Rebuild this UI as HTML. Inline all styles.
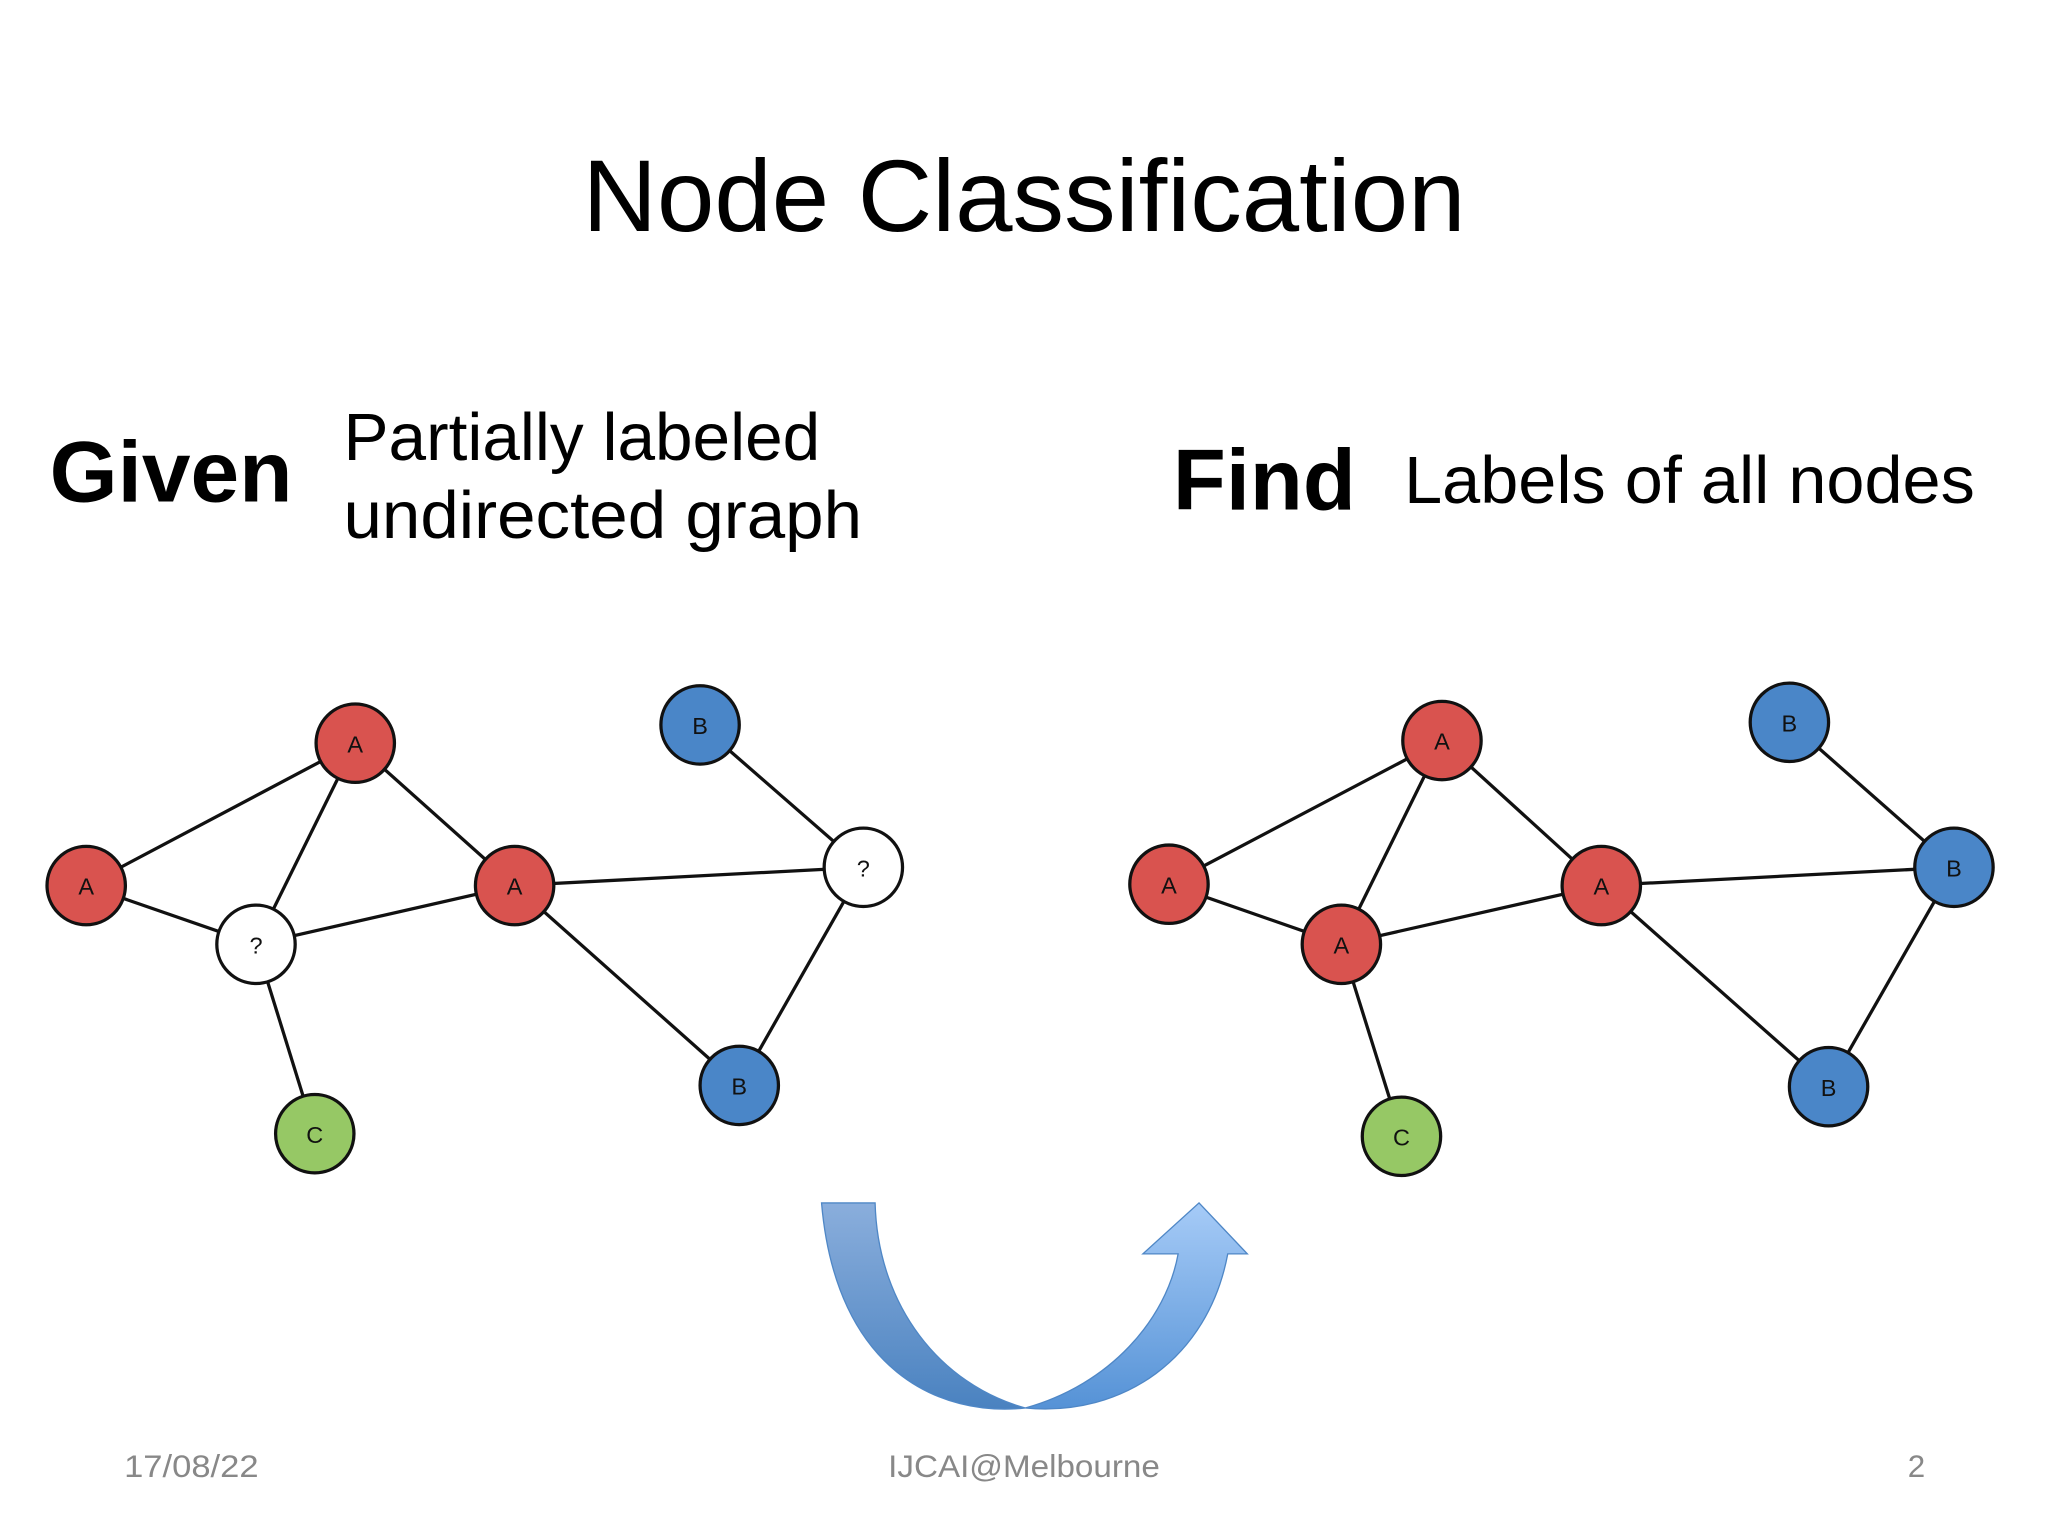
<!DOCTYPE html>
<html><head><meta charset="utf-8"><style>html,body{margin:0;padding:0;background:#fff}svg{display:block}</style></head>
<body>
<svg width="2048" height="1536" viewBox="0 0 1568 1176" xmlns="http://www.w3.org/2000/svg" font-family="Liberation Sans, sans-serif">
<defs>
<linearGradient id="g1" x1="0" y1="0" x2="0" y2="1"><stop offset="0" stop-color="#8aaedc"/><stop offset="1" stop-color="#4a82c0"/></linearGradient>
<linearGradient id="g2" x1="0" y1="0" x2="0" y2="1"><stop offset="0" stop-color="#a6cbf7"/><stop offset="1" stop-color="#5592d6"/></linearGradient>
</defs>
<text x="446" y="177" font-size="78" textLength="676" lengthAdjust="spacingAndGlyphs" fill="#000">Node Classification</text>
<text x="38" y="384" font-size="66" font-weight="bold" textLength="186" lengthAdjust="spacingAndGlyphs">Given</text>
<text x="263" y="352" font-size="51" textLength="365" lengthAdjust="spacingAndGlyphs">Partially labeled</text>
<text x="263" y="412" font-size="51" textLength="397" lengthAdjust="spacingAndGlyphs">undirected graph</text>
<text x="898" y="390" font-size="66" font-weight="bold" textLength="140" lengthAdjust="spacingAndGlyphs">Find</text>
<text x="1075" y="385" font-size="51" textLength="437" lengthAdjust="spacingAndGlyphs">Labels of all nodes</text>
<g stroke="#111" stroke-width="2.5">
<line x1="66" y1="678" x2="272" y2="569"/><line x1="66" y1="678" x2="196" y2="723"/><line x1="272" y1="569" x2="196" y2="723"/><line x1="272" y1="569" x2="394" y2="678"/><line x1="196" y1="723" x2="394" y2="678"/><line x1="196" y1="723" x2="241" y2="868"/><line x1="394" y1="678" x2="661" y2="664"/><line x1="394" y1="678" x2="566" y2="831"/><line x1="536" y1="555" x2="661" y2="664"/><line x1="661" y1="664" x2="566" y2="831"/>
<line x1="895" y1="677" x2="1104" y2="567"/><line x1="895" y1="677" x2="1027" y2="723"/><line x1="1104" y1="567" x2="1027" y2="723"/><line x1="1104" y1="567" x2="1226" y2="678"/><line x1="1027" y1="723" x2="1226" y2="678"/><line x1="1027" y1="723" x2="1073" y2="870"/><line x1="1226" y1="678" x2="1496" y2="664"/><line x1="1226" y1="678" x2="1400" y2="832"/><line x1="1370" y1="553" x2="1496" y2="664"/><line x1="1496" y1="664" x2="1400" y2="832"/>
</g>
<g stroke="#111" stroke-width="2.5">
<circle cx="272" cy="569" r="30" fill="#d9534f"/><circle cx="66" cy="678" r="30" fill="#d9534f"/><circle cx="196" cy="723" r="30" fill="#fff"/><circle cx="394" cy="678" r="30" fill="#d9534f"/><circle cx="536" cy="555" r="30" fill="#4a86c8"/><circle cx="661" cy="664" r="30" fill="#fff"/><circle cx="566" cy="831" r="30" fill="#4a86c8"/><circle cx="241" cy="868" r="30" fill="#96c865"/>
<circle cx="1104" cy="567" r="30" fill="#d9534f"/><circle cx="895" cy="677" r="30" fill="#d9534f"/><circle cx="1027" cy="723" r="30" fill="#d9534f"/><circle cx="1226" cy="678" r="30" fill="#d9534f"/><circle cx="1370" cy="553" r="30" fill="#4a86c8"/><circle cx="1496" cy="664" r="30" fill="#4a86c8"/><circle cx="1400" cy="832" r="30" fill="#4a86c8"/><circle cx="1073" cy="870" r="30" fill="#96c865"/>
</g>
<g font-size="18" text-anchor="middle" fill="#111">
<text x="272" y="576">A</text><text x="66" y="685">A</text><text x="196" y="730">?</text><text x="394" y="685">A</text><text x="536" y="562">B</text><text x="661" y="671">?</text><text x="566" y="838">B</text><text x="241" y="875">C</text>
<text x="1104" y="574">A</text><text x="895" y="684">A</text><text x="1027" y="730">A</text><text x="1226" y="685">A</text><text x="1370" y="560">B</text><text x="1496" y="671">B</text><text x="1400" y="839">B</text><text x="1073" y="877">C</text>
</g>
<path d="M629,921 L670,921 C672,1000 720,1060 785,1078 C720,1085 640,1050 629,921 Z" fill="url(#g1)" stroke="#4f87c6" stroke-width="1"/>
<path d="M785,1078 C850,1060 893,1010 902,960 L875,960 L918,921 L955,960 L940,960 C925,1040 860,1085 785,1078 Z" fill="url(#g2)" stroke="#4f87c6" stroke-width="1"/>
<g font-size="24" fill="#888">
<text x="95" y="1131" textLength="103" lengthAdjust="spacingAndGlyphs">17/08/22</text>
<text x="680" y="1131" textLength="208" lengthAdjust="spacingAndGlyphs">IJCAI@Melbourne</text>
<text x="1474" y="1131" text-anchor="end">2</text>
</g>
</svg>
</body></html>
